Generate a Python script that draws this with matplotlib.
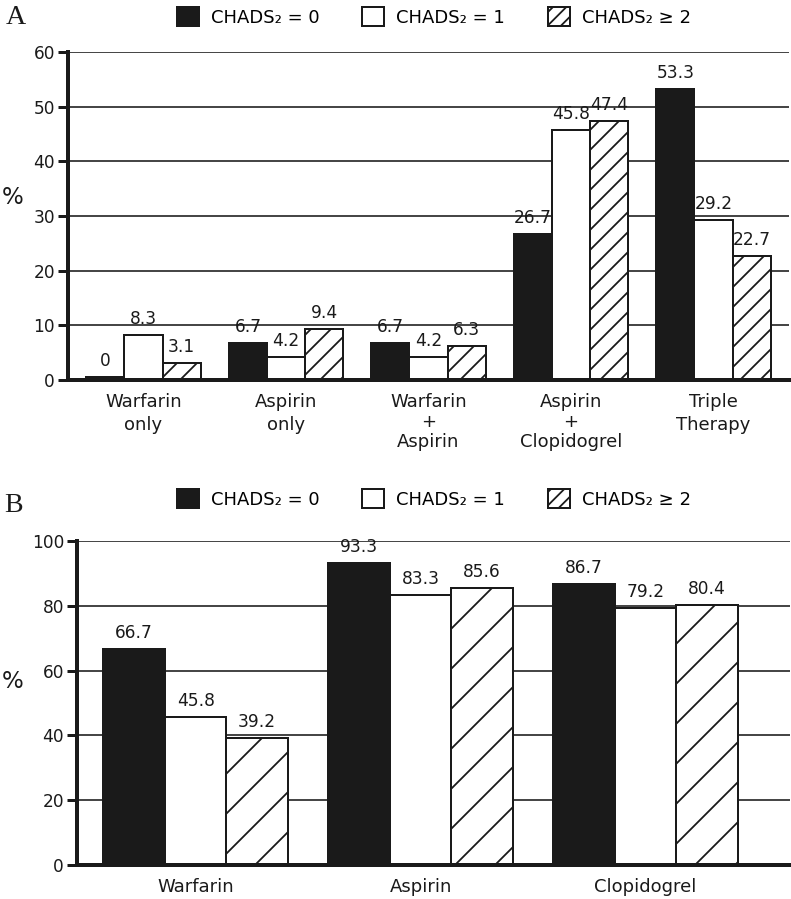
import numpy as np
import matplotlib
matplotlib.use('Agg')
import matplotlib.pyplot as plt
from matplotlib.patches import Patch

DPI = 120
W, H = 791, 899


def pt(px):
    return px * 72.0 / DPI


# ---------------- data ----------------
series = ['CHADS₂ = 0', 'CHADS₂ = 1', 'CHADS₂ ≥ 2']

cats_a = ['Warfarin\nonly', 'Aspirin\nonly', 'Warfarin\n+\nAspirin',
          'Aspirin\n+\nClopidogrel', 'Triple\nTherapy']
chads0_a = [0, 6.7, 6.7, 26.7, 53.3]
chads1_a = [8.3, 4.2, 4.2, 45.8, 29.2]
chads2_a = [3.1, 9.4, 6.3, 47.4, 22.7]
yticks_a = [0, 10, 20, 30, 40, 50, 60]

cats_b = ['Warfarin', 'Aspirin', 'Clopidogrel']
chads0_b = [66.7, 93.3, 86.7]
chads1_b = [45.8, 83.3, 79.2]
chads2_b = [39.2, 85.6, 80.4]
yticks_b = [0, 20, 40, 60, 80, 100]

# ---------------- style ----------------
INK = '#1a1a1a'
facecolors = [INK, 'white', 'white']
min_visible = 0.6  # a zero bar is drawn as a thin sliver, as in the original

plt.rcParams['hatch.linewidth'] = pt(1.8)
plt.rcParams['hatch.color'] = INK
plt.rcParams['font.family'] = ['DejaVu Sans']

fig = plt.figure(figsize=(W / DPI, H / DPI), dpi=DPI)


def rect(l, r, t, b):
    return [l / W, 1 - b / H, (r - l) / W, (b - t) / H]


def panel(ax, cats, vals, width, xlim, ylim, yticks, hatch):
    n = len(cats)
    x0 = np.arange(n)
    hatches = [None, None, hatch]
    for i, v in enumerate(vals):
        xs = x0 + (i - 1) * width
        hv = [max(a, min_visible) for a in v]
        ax.bar(xs, hv, width, color=facecolors[i], edgecolor=INK,
               linewidth=pt(2), hatch=hatches[i], zorder=2)
        for xi, vi, hi in zip(xs, v, hv):
            ax.annotate(f'{vi:g}', (xi, hi), xytext=(0, pt(7)),
                        textcoords='offset points', ha='center', va='bottom',
                        fontsize=pt(17), color=INK)
    ax.set_xlim(*xlim)
    ax.set_ylim(*ylim)
    ax.set_yticks(yticks)
    ax.set_xticks(x0)
    labs = ax.set_xticklabels(cats, fontsize=pt(18))
    for lab, c in zip(labs, cats):
        lab.set_linespacing(1.15 if c.count('\n') == 2 else 1.35)
    ax.set_axisbelow(True)
    ax.yaxis.grid(True, color=INK, linewidth=pt(1.6))
    for s in ('top', 'right'):
        ax.spines[s].set_visible(False)
    for s in ('left', 'bottom'):
        ax.spines[s].set_linewidth(pt(4))
        ax.spines[s].set_color(INK)
    ax.tick_params(axis='y', length=pt(10), width=pt(3), pad=pt(3),
                   labelsize=pt(17), colors=INK)
    ax.tick_params(axis='x', length=0, pad=pt(13), colors=INK)


axA = fig.add_axes(rect(68, 789, 52, 380))
panel(axA, cats_a, [chads0_a, chads1_a, chads2_a], 0.267,
      (-0.53, 4.53), (0, 60), yticks_a, '//')

axB = fig.add_axes(rect(77, 790, 541, 865))
panel(axB, cats_b, [chads0_b, chads1_b, chads2_b], 0.274,
      (-0.527, 2.642), (0, 100), yticks_b, '/')


def legend(yc):
    hs = [Patch(facecolor=facecolors[i], edgecolor=INK, linewidth=pt(2),
                hatch=['', '', '///'][i]) for i in range(3)]
    fig.legend(hs, series, loc='center', bbox_to_anchor=(434 / W, 1 - yc / H),
               ncol=3, frameon=False, fontsize=pt(18),
               handlelength=22 / 18, handleheight=22 / 18,
               handletextpad=12 / 18, columnspacing=43 / 18,
               borderpad=0, borderaxespad=0)


legend(17)
legend(499)

fig.text(16 / W, 1 - 18 / H, 'A', family='Liberation Serif',
         fontsize=pt(28), ha='center', va='center', color=INK)
fig.text(14 / W, 1 - 505 / H, 'B', family='Liberation Serif',
         fontsize=pt(28), ha='center', va='center', color=INK)
fig.text(13 / W, 1 - 197 / H, '%', fontsize=pt(23), ha='center',
         va='center', color=INK)
fig.text(13 / W, 1 - 682 / H, '%', fontsize=pt(23), ha='center',
         va='center', color=INK)

fig.savefig('out.png', dpi=DPI)
